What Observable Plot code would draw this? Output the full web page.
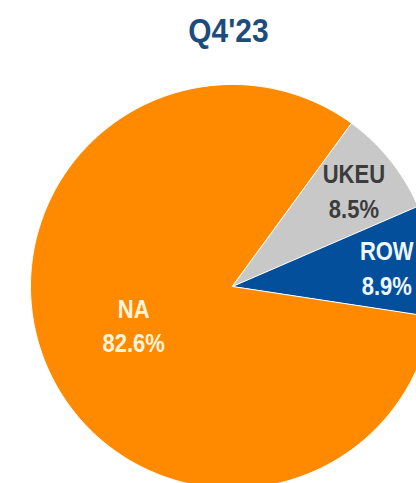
<!DOCTYPE html>
<html>
<head>
<meta charset="utf-8">
<script src="https://cdn.jsdelivr.net/npm/d3@7"></script>
<script src="https://cdn.jsdelivr.net/npm/@observablehq/plot@0.6"></script>
<style>
  html, body { margin: 0; padding: 0; background: #fff; }
  svg { display: block; }
</style>
</head>
<body>
<div id="chart"></div>
<script>
// ---- data ----
const title = "Q4'23";
const regions = ["UKEU", "ROW", "NA"];
const shares = [8.5, 8.9, 82.6];
const shareLabels = ["8.5%", "8.9%", "82.6%"];
const sliceColors = ["#c8c8c8", "#034f9c", "#ff8a00"];
const labelColors = ["#3c3c3c", "#eef7ff", "#fff4de"];

// ---- layout ----
const W = 416, H = 483;
const cx = 232, cy = 286, R = 202;
const startDeg = 36;

const data = regions.map((r, i) => ({region: r, share: shares[i], label: shareLabels[i], color: sliceColors[i], text: labelColors[i]}));
const a0 = startDeg * Math.PI / 180;
const arcs = d3.pie().sort(null).value(d => d.share).startAngle(a0).endAngle(a0 + 2 * Math.PI)(data);

function slicePoints(a) {
  const pts = [{x: 0, y: 0}];
  const n = Math.max(8, Math.ceil((a.endAngle - a.startAngle) / 0.01));
  for (let k = 0; k <= n; k++) {
    const t = a.startAngle + (a.endAngle - a.startAngle) * k / n;
    pts.push({x: Math.sin(t), y: Math.cos(t)});
  }
  return pts;
}
const big = a => a.data.share > 50;
const labelR = a => big(a) ? 0.53 : 0.77;
const mid = a => (a.startAngle + a.endAngle) / 2;

const font = "'Liberation Sans', Arial, sans-serif";

const marks = [];
arcs.forEach(a => {
  marks.push(Plot.line(slicePoints(a), {x: "x", y: "y", curve: "linear-closed", fill: a.data.color, stroke: "#ffffff", strokeWidth: 1}));
});
arcs.forEach(a => {
  marks.push(Plot.text([a], {
    x: d => labelR(d) * Math.sin(mid(d)),
    y: d => labelR(d) * Math.cos(mid(d)),
    dy: big(a) ? -4 : 0,
    text: d => d.data.region + "\n" + d.data.label,
    fill: a.data.text,
    fontSize: 25,
    fontWeight: "bold",
    lineHeight: 1.38
  }));
});
marks.push(Plot.text([title], {x: () => -0.02, frameAnchor: "top", lineAnchor: "middle", dy: 31, fill: "#1d4c7c", fontSize: 34, fontWeight: "bold"}));

const chart = Plot.plot({
  width: W,
  height: H,
  margin: 0,
  style: {fontFamily: font, background: "#fff", overflow: "hidden"},
  x: {axis: null, domain: [-1, 1], range: [cx - R, cx + R]},
  y: {axis: null, domain: [-1, 1], range: [cy + R, cy - R]},
  marks
});
// narrow the glyphs horizontally (condensed look of the original)
d3.select(chart).selectAll("text").each(function() {
  const t = this.getAttribute("transform") || "";
  this.setAttribute("transform", (t + " scale(0.88,1)").trim());
});
document.getElementById("chart").appendChild(chart);
</script>
</body>
</html>
